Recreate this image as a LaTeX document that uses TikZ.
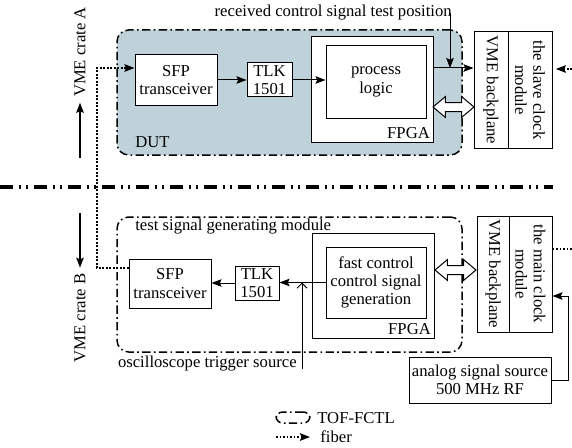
\documentclass[tikz,border=0pt]{standalone}
\usepackage{fontspec}
\setmainfont{Liberation Serif}
\usetikzlibrary{arrows.meta,fit,shapes.arrows}

\definecolor{dutblue}{RGB}{191,210,218}

\tikzset{
  box/.style={draw, fill=white, inner sep=0pt, line width=0.6pt},
  boxtext/.style={align=center, inner sep=0pt},
  tlktext/.style={boxtext, font=\fontsize{10}{10.5}\selectfont},
  tofbox/.style={draw, line width=0.9pt, rounded corners=7pt, inner sep=0pt,
    dash pattern=on 5pt off 2pt on 1pt off 2pt},
  arr/.style={-{Stealth[length=6pt,width=4.5pt,inset=1pt]}, line width=0.6pt},
  barb/.style={-{Straight Barb[length=3pt,width=6pt]}, line width=0.6pt},
  fiber/.style={densely dotted, line width=1.1pt,
    -{Stealth[length=6pt,width=4.5pt,inset=1pt]}},
  vtext/.style={rotate=-90, align=center, inner sep=0pt},
  dblarr/.style={double arrow, draw, fill=white, inner sep=2.4pt,
    minimum height=24.6pt, double arrow head extend=3.5pt,
    double arrow tip angle=80, line width=0.6pt},
  sepline/.style={line width=2pt,
    dash pattern=on 7.8pt off 3.6pt on 1.2pt off 3pt on 1.2pt off 3.6pt}
}

\begin{document}
\begin{tikzpicture}[x=0.6pt, y=-0.6pt, font=\fontsize{10}{11}\selectfont]
\useasboundingbox (0,0) rectangle (572,447);

% crate A: DUT
\node[tofbox, fill=dutblue, fit={(117,30) (462,155)}] (dut) {};
\node[anchor=base west, inner sep=0pt] (dutlbl) at (135,147) {DUT};
\node[box, fit={(135,55) (217,105)}, label={[boxtext]center:{SFP\\transceiver}}] (sfpA) {};
\node[box, fit={(247,63) (292,97)}, label={[tlktext]center:{TLK\\1501}}] (tlkA) {};
\node[box, fit={(311,37) (433,142)}] (fpgaA) {};
\node[box, fit={(326,46) (426,118)}, label={[boxtext]center:{process\\logic}}] (procA) {};
\node[anchor=south east, inner sep=2pt] (fpgaAlbl) at (fpgaA.south east) {FPGA};
\node[box, fit={(474,32) (508,148)}, label={[vtext]center:VME backplane}] (vmeA) {};
\node[box, fit={(508,32) (552,148)},
  label={[vtext]center:{the slave clock\\module}}] (sclkA) {};
\node[anchor=base east, inner sep=0pt] (rxtxt) at (452,17)
  {received control signal test position};
\node[dblarr] (busA) at (453.5,107) {};

\coordinate (tp) at (450,68);
\draw[arr] (sfpA) -- (tlkA);
\draw[arr] (tlkA) -- (procA.west |- tlkA);
\draw[arr] (fpgaA.east |- tp) -- (vmeA.west |- tp);
\draw[arr] (tp |- rxtxt.east) -- (tp);

% separator and crate labels
\draw[sepline] (0,187) -- (553,187);
\node[rotate=90] (crateA) at (80,52) {VME crate A};
\node[rotate=90] (crateB) at (80,318) {VME crate B};
\coordinate (upA) at (80,158);
\coordinate (dnB) at (80,213);
\draw[arr, line width=0.9pt] (upA) -- (crateA.west);
\draw[arr, line width=0.9pt] (dnB) -- (crateB.east);

% crate B: test signal generating module
\node[tofbox, fit={(117,217) (462,352)}] (gen) {};
\node[anchor=base west, inner sep=0pt] (genlbl) at (135,230)
  {test signal generating module};
\node[box, fit={(129,259) (211,308)}, label={[boxtext]center:{SFP\\transceiver}}] (sfpB) {};
\node[box, fit={(235,266) (279,300)}, label={[tlktext]center:{TLK\\1501}}] (tlkB) {};
\node[box, fit={(312,233) (434,338)}] (fpgaB) {};
\node[box, fit={(326,247) (426,318)},
  label={[boxtext]center:{fast control\\control signal\\generation}}] (fastB) {};
\node[anchor=south east, inner sep=2pt] (fpgaBlbl) at (fpgaB.south east) {FPGA};
\node[box, fit={(477,216) (509,332)}, label={[vtext]center:VME backplane}] (vmeB) {};
\node[box, fit={(509,216) (552,332)},
  label={[vtext]center:{the main clock\\module}}] (mclkB) {};
\node[box, fit={(409,357) (551,403)},
  label={[boxtext]center:{analog signal source\\500 MHz RF}}] (rfsrc) {};
\node[dblarr] (busB) at (455.5,270) {};
\node[anchor=base east, inner sep=0pt] (osc) at (297,367) {oscilloscope trigger source};

\draw[arr] (fastB.west) -- (tlkB.east |- fastB.west);
\draw[arr] (tlkB.west) -- (sfpB.east |- tlkB.west);
\coordinate (trig) at (302,369);
\draw[barb] (trig) -- (trig |- fastB.west);

\coordinate (rfin) at (568,296);
\draw[arr] (rfsrc.east) -| (rfin) -- (mclkB.east |- rfin);

% fibers
\coordinate (fibA) at (97,68);
\coordinate (fibB) at (97,268);
\draw[fiber] (sfpB.west |- fibB) -- (fibB) -- (fibA) -- (sfpA.west |- fibA);
\coordinate (fibR) at (572,249);
\draw[densely dotted, line width=1.1pt] (mclkB.east |- fibR) -- (fibR);
\coordinate (fibS) at (572,69);
\draw[fiber, shorten >=2pt] (fibS) -- (sclkA.east |- fibS);

% legend
\node[tofbox, rounded corners=4pt, fit={(276,412) (310,423)}] (legbox) {};
\node[anchor=west, inner sep=0pt] (legtof) at (317,418) {TOF-FCTL};
\coordinate (legf) at (276,437);
\node[anchor=west, inner sep=0pt] (legfib) at (320,437) {fiber};
\draw[fiber, shorten >=6pt] (legf) -- (legfib.west);
\end{tikzpicture}
\end{document}
